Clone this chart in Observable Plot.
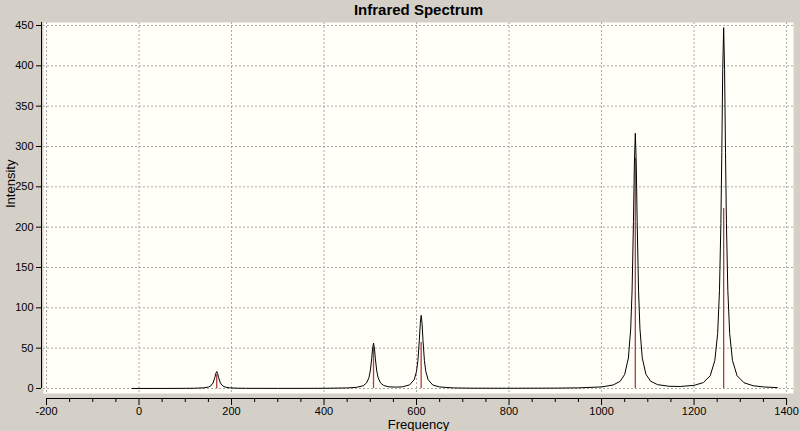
<!DOCTYPE html>
<html>
<head>
<meta charset="utf-8">
<script src="https://cdn.jsdelivr.net/npm/d3@7"></script>
<script src="https://cdn.jsdelivr.net/npm/@observablehq/plot@0.6"></script>
<style>
  html, body { margin: 0; padding: 0; background: #d4d0c8; }
  #chart { width: 800px; height: 431px; overflow: hidden; }
</style>
</head>
<body>
<div id="chart"></div>
<script>
// ---- data ----
const title = "Infrared Spectrum";
const xLabel = "Frequency";
const yLabel = "Intensity";

// broadened spectrum (black curve), frequency (cm^-1) and intensity
const curveFreq = [-15, 50, 100, 120, 140, 150, 155, 160, 164, 166, 168, 170, 172, 176, 181, 186, 196, 210, 230, 300,
  350, 400, 450, 470, 485, 492, 497, 500, 503, 505, 507, 509, 511, 514, 517, 522, 529, 540, 555, 570,
  585, 595, 600, 603, 606, 608, 610, 612, 614, 617, 620, 625, 635, 650, 680, 720, 800, 900, 950, 1000,
  1025, 1040, 1050, 1058, 1063, 1066, 1069, 1071, 1073, 1075, 1077, 1080, 1083, 1088, 1096, 1106, 1121, 1146, 1170, 1200,
  1220, 1235, 1245, 1251, 1255, 1258, 1260, 1262, 1264, 1266, 1268, 1270, 1273, 1277, 1283, 1293, 1308, 1328, 1350, 1380];
const curveIntensity = [0.05, 0.09, 0.18, 0.31, 0.82, 1.8, 3.2, 6.8, 13.7, 18.5, 21, 18.5, 13.7, 6.8, 3.2, 1.8, 0.83, 0.4, 0.22, 0.14,
  0.16, 0.26, 0.68, 1.4, 3.5, 6.9, 13.2, 21.6, 36.8, 49.7, 56.3, 49.8, 36.9, 21.7, 13.3, 7.0, 3.7, 2.1, 1.7, 2.1,
  4.5, 11.0, 21.3, 34.7, 59.4, 80.1, 90.7, 80.1, 59.4, 34.7, 21.3, 11.0, 4.35, 1.9, 0.72, 0.38, 0.29, 0.46, 0.79, 1.97,
  4.3, 8.8, 17.4, 37.8, 73.8, 120.9, 207, 279.4, 316.4, 279.4, 207.1, 121.0, 73.9, 37.9, 17.6, 9.1, 4.8, 2.75, 2.5, 3.9,
  7.3, 15.9, 34.9, 68.2, 121.8, 204.4, 292.7, 395.1, 447.3, 395.1, 292.7, 204.4, 121.8, 68.2, 34.9, 15.9, 7.1, 3.4, 1.95, 1.1];

// computed line positions (red sticks)
const stickFreq = [168, 507, 610, 1073, 1264];
const stickIntensity = [17, 51, 57, 285, 223];

// axes
const xTicks = [-200, 0, 200, 400, 600, 800, 1000, 1200, 1400];
const xMinorTicks = [-150, -100, -50, 50, 100, 150, 250, 300, 350, 450, 500, 550, 650, 700, 750,
  850, 900, 950, 1050, 1100, 1150, 1250, 1300, 1350];
const yTicks = [0, 50, 100, 150, 200, 250, 300, 350, 400, 450];
const xDomain = [-206.5, 1415];
const yDomain = [-6.2, 453.7];

// ---- build ----
const curve = curveFreq.map((f, i) => ({f, v: curveIntensity[i]}));
const sticks = stickFreq.map((f, i) => ({f, v: stickIntensity[i]}));
const plain = d => String(d);

const font = "'Liberation Sans', Arial, sans-serif";
const chart = Plot.plot({
  width: 800,
  height: 431,
  marginTop: 22,
  marginBottom: 38,
  marginLeft: 43,
  marginRight: 7,
  x: {domain: xDomain},
  y: {domain: yDomain},
  style: {background: "#d4d0c8", fontFamily: font, fontSize: "11px", color: "#000", overflow: "visible"},
  marks: [
    Plot.frame({fill: "#fffff8", stroke: null}),
    Plot.gridX(xTicks, {stroke: "#a8a8a8", strokeOpacity: 1, strokeDasharray: "2,2"}),
    Plot.gridY(yTicks, {stroke: "#a8a8a8", strokeOpacity: 1, strokeDasharray: "2,2"}),
    Plot.ruleX(sticks, {x: "f", y1: 0, y2: "v", stroke: "#b83a3a", strokeWidth: 1.3}),
    Plot.line(curve, {x: "f", y: "v", stroke: "#000", strokeWidth: 1}),
    // axis lines
    Plot.ruleX([xDomain[0]], {y1: 0, y2: yDomain[1], dx: -2, stroke: "#000"}),
    Plot.ruleY([yDomain[0]], {x1: xTicks[0], x2: xTicks[xTicks.length - 1], dy: 5, stroke: "#000"}),
    Plot.axisY(yTicks, {anchor: "left", tickSize: 5, tickPadding: 3, dx: -2, label: null, tickFormat: plain, stroke: "#000", fill: "#000"}),
    Plot.axisX(xTicks, {anchor: "bottom", tickSize: 7, tickPadding: 2, dy: 5, label: null, tickFormat: plain, stroke: "#000", fill: "#000"}),
    Plot.axisX(xMinorTicks, {anchor: "bottom", tickSize: 4, dy: 5, label: null, tickFormat: () => "", stroke: "#000"}),
    // texts
    Plot.text([title], {frameAnchor: "top", lineAnchor: "middle", dy: -12, fontSize: 15, fontWeight: "bold", fill: "#000"}),
    Plot.text([xLabel], {frameAnchor: "bottom", lineAnchor: "middle", dy: 31, fontSize: 13, fill: "#000"}),
    Plot.text([yLabel], {frameAnchor: "left", lineAnchor: "middle", dx: -33, rotate: -90, fontSize: 13, fill: "#000"})
  ]
});
document.getElementById("chart").appendChild(chart);
</script>
</body>
</html>
